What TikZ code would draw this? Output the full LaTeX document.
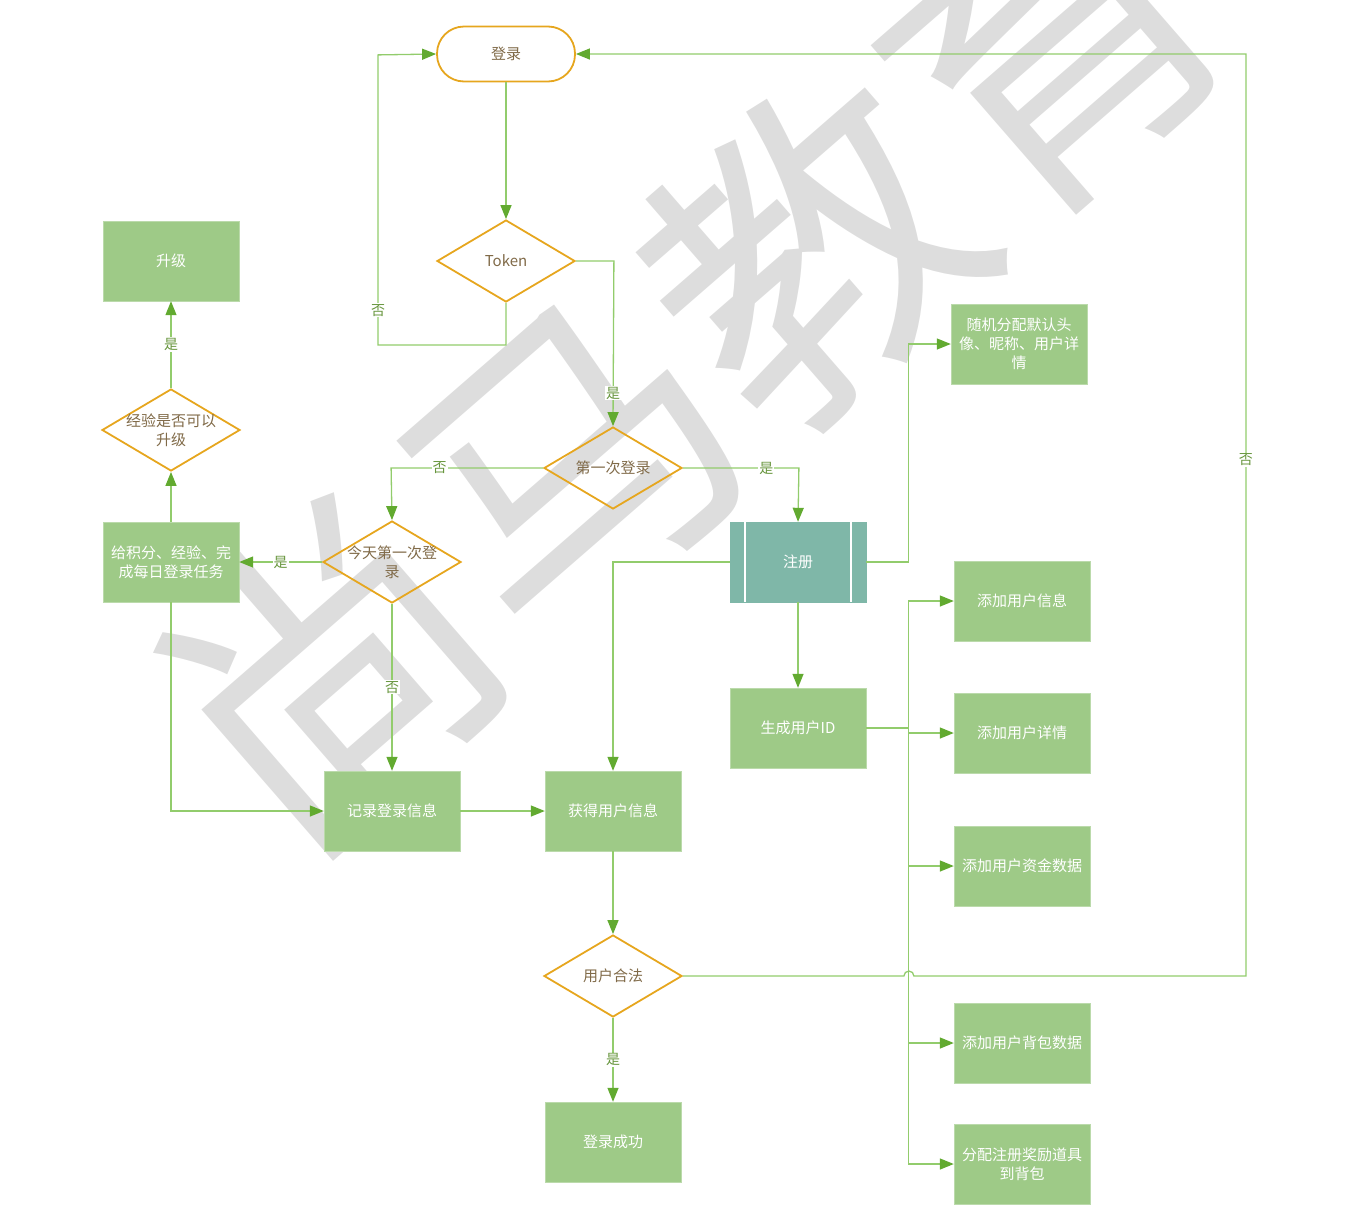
\documentclass[tikz,border=0pt]{standalone}
\usepackage{fontspec}
\setmainfont{Noto Sans CJK SC}
\usetikzlibrary{shapes.geometric,arrows.meta}
\definecolor{boxgreen}{RGB}{158,202,135}
\definecolor{linegreen}{RGB}{146,204,108}
\definecolor{tipgreen}{RGB}{98,170,48}
\definecolor{regteal}{RGB}{127,183,168}
\definecolor{decorange}{RGB}{230,166,30}
\definecolor{dectext}{RGB}{128,106,72}
\definecolor{lbltext}{RGB}{104,150,62}
\definecolor{wmgray}{RGB}{221,221,221}
\begin{document}
\begin{tikzpicture}
  [x=1pt,y=-1pt,
   every node/.style={font=\fontsize{15}{19}\selectfont,align=center},
   box/.style={rectangle,fill=boxgreen,draw=boxgreen!70!white,text=white,minimum width=136,minimum height=80,inner sep=0pt},
   decision/.style={diamond,draw=decorange,line width=1.8pt,text=dectext,aspect=1.68,minimum width=138,minimum height=82,inner sep=-12pt},
   terminal/.style={rectangle,rounded corners=27pt,fill=white,draw=decorange,line width=1.8pt,text=dectext,minimum width=138,minimum height=55},
   flow/.style={draw=linegreen,line width=1.3pt,-{Triangle[length=14pt,width=11pt,color=tipgreen]}},
   lbl/.style={fill=white,inner sep=1pt,text=lbltext,font=\fontsize{14}{16}\selectfont}]
\useasboundingbox (0,0) rectangle (1370,1216);
\begin{scope}
  \clip (0,0) rectangle (1370,1216);
  \node (wm)[text=wmgray,font=\fontsize{320}{320}\selectfont,rotate=41] at (690,355) {尚马教育};
\end{scope}

\node (login)[terminal] at (506,54) {登录};
\node (token)[decision] at (506,261) {Token};
\node (first)[decision] at (613,468) {第一次登录};
\node (today)[decision] at (392,562) {今天第一次登\\录};
\node (exp)[decision] at (171,430) {经验是否可以\\升级};
\node (legal)[decision] at (613,976) {用户合法};
\node (up)[box] at (171,261) {升级};
\node (award)[box] at (171,562) {给积分、经验、完\\成每日登录任务};
\node (record)[box] at (392,811) {记录登录信息};
\node (fetch)[box] at (613,811) {获得用户信息};
\node (success)[box] at (613,1142) {登录成功};
\node (reg)[box,fill=regteal,draw=regteal] at (798,562) {注册};
\node (genid)[box] at (798,728) {生成用户ID};
\node (random)[box] at (1019,344) {随机分配默认头\\像、昵称、用户详\\情};
\node (addinfo)[box] at (1022,601) {添加用户信息};
\node (adddetail)[box] at (1022,733) {添加用户详情};
\node (addfund)[box] at (1022,866) {添加用户资金数据};
\node (addbag)[box] at (1022,1043) {添加用户背包数据};
\node (addreward)[box] at (1022,1164) {分配注册奖励道具\\到背包};

% side bars of the register box
\foreach \top/\bot/\dx in {north west/south west/15,north east/south east/-15}
  \draw[white,line width=2pt] ([xshift=\dx]reg.\top) -- ([xshift=\dx]reg.\bot);

\foreach \from/\to in {login/token,award/exp,record/fetch,reg/genid,fetch/legal}
  \draw[flow] (\from) -- (\to);
\draw[flow] (token.south) -- ++(0,42) -- ++(-128,0) -- node[lbl,pos=0.12]{否} ++(0,-290) -- (login.west);
\draw[flow] (token.east) -- ++(38,0) -- node[lbl,pos=0.8]{是} (first.north);
\draw[flow] (first.west) -- node[lbl,pos=0.68]{否} ++(-152,0) -- (today.north);
\draw[flow] (first.east) -- node[lbl,pos=0.72]{是} ++(116,0) -- (reg.north);
\draw[flow] (today.west) -- node[lbl]{是} (award.east);
\draw[flow] (today.south) -- node[lbl]{否} (record.north);
\draw[flow] (exp.north) -- node[lbl]{是} (up.south);
\draw[flow] (award.south) |- (record.west);
\draw[flow] (reg.west) -| (fetch.north);
\draw[flow] (reg.east) -- ++(42,0) |- (random.west);
\foreach \to in {addinfo,adddetail,addfund,addbag,addreward}
  \draw[flow] (genid.east) -- ++(42,0) |- (\to.west);
\draw[flow] (legal.south) -- node[lbl]{是} (success.north);
\draw[flow] (legal.east) -- ++(221,0) arc[start angle=180,end angle=360,radius=5]
  -- ++(332,0) -- node[lbl,pos=0.56]{否} ++(0,-922) -- (login.east);
\end{tikzpicture}
\end{document}
